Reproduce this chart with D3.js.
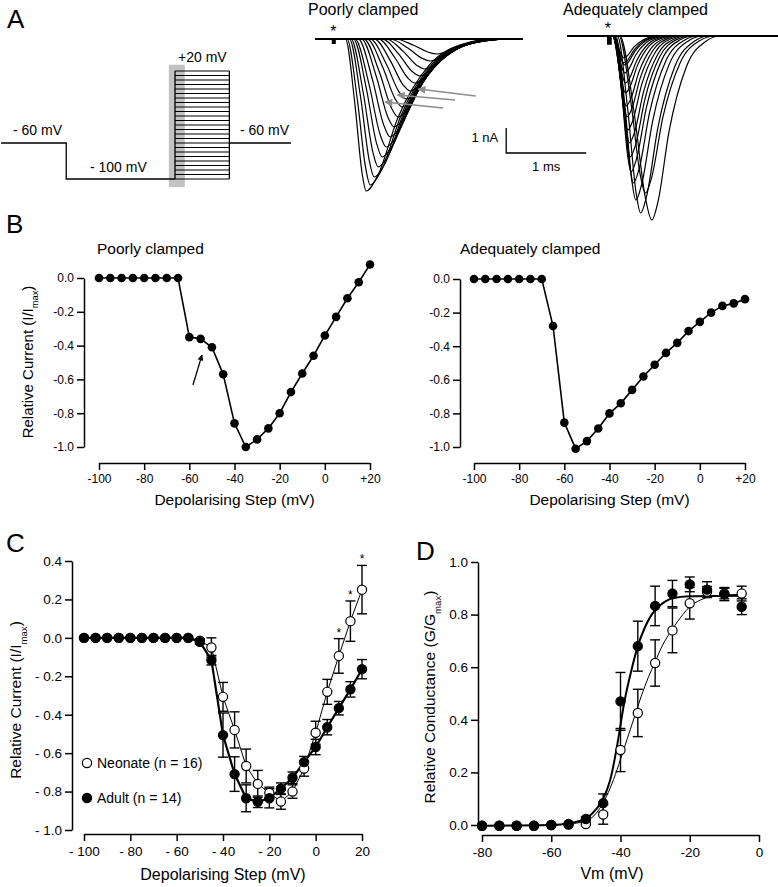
<!DOCTYPE html>
<html>
<head>
<meta charset="utf-8">
<script src="https://cdn.jsdelivr.net/npm/d3@7"></script>
<style>
  body { margin: 0; background: #fff; }
  svg { font-family: "Liberation Sans", Arial, sans-serif; }
</style>
</head>
<body>
<svg id="fig" width="778" height="887"></svg>
<script>
// ---------- DATA ----------
// panel A: voltage protocol (ms / mV)
const protoTimes = [0, 18, 48, 63, 80]
const holdV = -60
const prepulseV = -100
const stepV = [-100,-95,-90,-85,-80,-75,-70,-65,-60,-55,-50,-45,-40,-35,-30,-25,-20,-15,-10,-5,0,5,10,15,20]
const shadeT = [46.3, 50.7]

// panel A: current traces [onset ms, peak ms, peak nA, end ms]
const poorTraces = [
  [0.38, 0.64, -6.08, 2.22], [0.40, 0.69, -5.84, 2.24], [0.43, 0.74, -5.52, 2.26],
  [0.45, 0.79, -5.12, 2.28], [0.48, 0.84, -4.72, 2.30], [0.50, 0.89, -4.32, 2.32],
  [0.54, 0.94, -3.92, 2.33], [0.58, 0.99, -3.52, 2.35], [0.61, 1.04, -3.12, 2.36],
  [0.65, 1.09, -2.72, 2.38], [0.69, 1.14, -2.40, 2.40], [0.74, 1.19, -2.08, 2.42],
  [0.79, 1.25, -1.76, 2.44], [0.84, 1.31, -1.48, 2.45], [0.89, 1.37, -1.20, 2.46],
  [0.94, 1.44, -0.88, 2.48], [1.00, 1.52, -0.60, 2.50]
]
const goodTraces = [
  [0.65, 0.98, -6.28, 1.85], [0.66, 1.06, -7.36, 1.92], [0.63, 0.92, -7.08, 1.78],
  [0.61, 0.86, -6.56, 1.70], [0.60, 0.83, -5.88, 1.64], [0.59, 0.80, -5.44, 1.58],
  [0.59, 0.79, -4.84, 1.53], [0.58, 0.78, -4.28, 1.49], [0.58, 0.76, -3.76, 1.45],
  [0.58, 0.75, -3.24, 1.41], [0.57, 0.74, -2.80, 1.37], [0.57, 0.73, -2.28, 1.33],
  [0.57, 0.73, -1.88, 1.30], [0.57, 0.72, -1.48, 1.27], [0.57, 0.72, -1.16, 1.24],
  [0.57, 0.71, -1.08, 1.22], [0.57, 0.71, -0.88, 1.20]
]
// gray arrows on poorly clamped traces [[t0,i0],[t1,i1]]
const poorArrows = [
  [[2.01, -2.28], [1.29, -2.00]],
  [[1.75, -2.44], [1.03, -2.24]],
  [[1.60, -2.76], [0.875, -2.52]]
]

// panel B: I/Imax vs step
const poorI = [0,0,0,0,0,0,0,0,-0.35,-0.36,-0.41,-0.57,-0.86,-1.0,-0.955,-0.89,-0.80,-0.675,-0.565,-0.46,-0.34,-0.23,-0.12,-0.025,0.08]
const goodI = [0,0,0,0,0,0,0,-0.28,-0.855,-1.01,-0.965,-0.89,-0.80,-0.74,-0.66,-0.58,-0.51,-0.44,-0.38,-0.31,-0.255,-0.20,-0.16,-0.145,-0.12]
const poorArrow = [[-58.4, -0.633], [-54.4, -0.456]]

// panel C: mean +/- sem
const adultI = [0,0,0,0,0,0,0,0,0,0,-0.02,-0.116,-0.506,-0.709,-0.835,-0.853,-0.835,-0.785,-0.728,-0.647,-0.568,-0.465,-0.366,-0.268,-0.163]
const adultSem = [0,0,0,0,0,0,0,0,0,0,0.012,0.025,0.115,0.09,0.07,0.03,0.05,0.03,0.03,0.03,0.04,0.04,0.035,0.04,0.05]
const neoI = [0,0,0,0,0,0,0,0,0,0,-0.015,-0.05,-0.307,-0.479,-0.667,-0.76,-0.807,-0.852,-0.80,-0.68,-0.494,-0.281,-0.094,0.087,0.251]
const neoSem = [0,0,0,0,0,0,0,0,0,0,0.01,0.05,0.075,0.094,0.088,0.07,0.03,0.04,0.035,0.04,0.06,0.065,0.09,0.105,0.126]
const sigSteps = [10, 15, 20]

// panel D: G/Gmax
const dV = [-80,-75,-70,-65,-60,-55,-50,-45,-40,-35,-30,-25,-20,-15,-10,-5]
const adultG = [-0.003,-0.003,-0.003,-0.003,0.0,0.004,0.023,0.083,0.47,0.68,0.833,0.88,0.915,0.895,0.878,0.83]
const adultGSem = [0,0,0,0,0,0,0.008,0.035,0.11,0.095,0.075,0.05,0.028,0.03,0.025,0.03]
const neoG = [-0.003,-0.003,-0.003,-0.003,0.0,0.002,0.004,0.04,0.285,0.426,0.616,0.74,0.843,0.887,0.88,0.88]
const neoGSem = [0,0,0,0,0,0,0.005,0.037,0.082,0.09,0.088,0.085,0.06,0.02,0.02,0.028]
// fitted Boltzmann curves
const adultFitV = [-80,-60,-55,-50,-47,-45,-43,-41,-40,-39,-37,-35,-33,-31,-29,-27,-25,-20,-5]
const adultFitG = [-0.003,0.0,0.006,0.025,0.06,0.1,0.17,0.3,0.38,0.46,0.58,0.68,0.75,0.8,0.83,0.85,0.862,0.87,0.872]
const neoFitV = [-80,-60,-55,-50,-47,-45,-43,-41,-40,-38,-36,-34,-32,-30,-28,-25,-22,-20,-17,-14,-10,-5]
const neoFitG = [-0.003,0.0,0.004,0.015,0.045,0.085,0.14,0.21,0.25,0.33,0.41,0.49,0.56,0.62,0.68,0.745,0.8,0.83,0.855,0.868,0.874,0.877]

// ---------- DRAW ----------
const svg = d3.select('#fig')
const black = '#000'

function panelLetter(txt, x, y) {
  svg.append('text').text(txt).attr('x', x).attr('y', y)
    .style('font-size', '26px')
}

function styleAxis(g, fs) {
  g.attr('font-family', null).attr('font-size', null)
  g.selectAll('path, line').attr('stroke', black).attr('stroke-width', 1.5)
  g.selectAll('text').attr('fill', black).style('font-size', fs + 'px')
}

// ===== PANEL A =====
panelLetter('A', 7, 28)

const protoX = d3.scaleLinear().domain([0, 80]).range([1, 291])
const protoY = d3.scaleLinear().domain([-100, 20]).range([179, 71])

svg.append('rect')
  .attr('x', protoX(shadeT[0])).attr('y', protoY(27))
  .attr('width', protoX(shadeT[1]) - protoX(shadeT[0]))
  .attr('height', protoY(-109) - protoY(27))
  .attr('fill', '#c2c2c2')

const protoLine = d3.line().x(d => protoX(d[0])).y(d => protoY(d[1]))
svg.append('path')
  .attr('d', protoLine([[protoTimes[0], holdV], [protoTimes[1], holdV], [protoTimes[1], prepulseV], [protoTimes[2], prepulseV]]))
  .attr('fill', 'none').attr('stroke', black).attr('stroke-width', 1.3)
svg.append('path')
  .attr('d', protoLine([[protoTimes[3], holdV], [protoTimes[4], holdV]]))
  .attr('fill', 'none').attr('stroke', black).attr('stroke-width', 1.3)
svg.append('g').selectAll('line')
  .data(stepV)
  .enter()
  .append('line')
  .attr('x1', protoX(protoTimes[2])).attr('x2', protoX(protoTimes[3]))
  .attr('y1', d => protoY(d)).attr('y2', d => protoY(d))
  .attr('stroke', black).attr('stroke-width', 1.1)
;[protoTimes[2], protoTimes[3]].forEach(t => {
  svg.append('line')
    .attr('x1', protoX(t)).attr('x2', protoX(t))
    .attr('y1', protoY(d3.min(stepV))).attr('y2', protoY(d3.max(stepV)))
    .attr('stroke', black).attr('stroke-width', 1.3)
})

const protoLabels = [
  ['- 60 mV', 13, 135], ['- 100 mV', 90, 172], ['+20 mV', 178, 62], ['- 60 mV', 240, 135]
]
protoLabels.forEach(l => {
  svg.append('text').text(l[0]).attr('x', l[1]).attr('y', l[2]).style('font-size', '14px')
})

// traces
const poorX = d3.scaleLinear().domain([0, 2.6]).range([315, 523])
const poorY = d3.scaleLinear().domain([0, -6.5]).range([39, 201.5])
const goodX = d3.scaleLinear().domain([0, 2.65]).range([567, 779])
const goodY = d3.scaleLinear().domain([0, -7.5]).range([36, 223.5])

function tracePoints(tr, tEnd) {
  const [on, pk, amp, end] = tr
  const rise = pk - on, fall = end - pk
  return [[0, 0], [on, 0], [on + 0.45 * rise, 0.42 * amp], [on + 0.8 * rise, 0.88 * amp], [pk, amp],
    [pk + 0.09 * fall, 0.9 * amp], [pk + 0.25 * fall, 0.52 * amp], [pk + 0.5 * fall, 0.17 * amp],
    [pk + 0.78 * fall, 0.03 * amp], [end, 0], [tEnd, 0]]
}

function drawTraces(traces, xs, ys) {
  const line = d3.line().curve(d3.curveMonotoneX).x(d => xs(d[0])).y(d => ys(d[1]))
  const tEnd = xs.domain()[1]
  svg.append('g').selectAll('path')
    .data(traces)
    .enter()
    .append('path')
    .attr('d', d => line(tracePoints(d, tEnd)))
    .attr('fill', 'none').attr('stroke', black).attr('stroke-width', 1.2)
  svg.append('line')
    .attr('x1', xs(0)).attr('x2', xs(tEnd))
    .attr('y1', ys(0)).attr('y2', ys(0))
    .attr('stroke', black).attr('stroke-width', 2.2)
}
drawTraces(poorTraces, poorX, poorY)
drawTraces(goodTraces, goodX, goodY)

// stimulus artefacts + asterisks
svg.append('rect').attr('x', poorX(0.21)).attr('y', poorY(0)).attr('width', poorX(0.26) - poorX(0.21))
  .attr('height', poorY(-0.2) - poorY(0)).attr('fill', black)
svg.append('rect').attr('x', goodX(0.5)).attr('y', goodY(0)).attr('width', goodX(0.56) - goodX(0.5))
  .attr('height', goodY(-0.35) - goodY(0)).attr('fill', black)
svg.append('text').text('*').attr('x', poorX(0.23)).attr('y', 37).attr('text-anchor', 'middle').style('font-size', '16px')
svg.append('text').text('*').attr('x', goodX(0.51)).attr('y', 34).attr('text-anchor', 'middle').style('font-size', '16px')

// gray arrows
svg.append('defs').append('marker')
  .attr('id', 'grayhead').attr('viewBox', '0 0 10 10').attr('refX', 9).attr('refY', 5)
  .attr('markerWidth', 11).attr('markerHeight', 8).attr('markerUnits', 'userSpaceOnUse').attr('orient', 'auto')
  .append('path').attr('d', 'M0,0 L10,5 L0,10 z').attr('fill', '#8c8c8c')
poorArrows.forEach(a => {
  svg.append('line')
    .attr('x1', poorX(a[0][0])).attr('y1', poorY(a[0][1]))
    .attr('x2', poorX(a[1][0])).attr('y2', poorY(a[1][1]))
    .attr('stroke', '#8c8c8c').attr('stroke-width', 1.6)
    .attr('marker-end', 'url(#grayhead)')
})

// scale bars (1 nA, 1 ms)
const barT = 2.39, barI = -4.56
svg.append('path')
  .attr('d', `M${poorX(barT)},${poorY(barI + 1)} L${poorX(barT)},${poorY(barI)} L${poorX(barT + 1)},${poorY(barI)}`)
  .attr('fill', 'none').attr('stroke', black).attr('stroke-width', 1.3)
svg.append('text').text('1 nA').attr('x', poorX(barT) - 8).attr('y', poorY(barI + 0.45))
  .attr('text-anchor', 'end').style('font-size', '13px')
svg.append('text').text('1 ms').attr('x', poorX(barT + 0.5)).attr('y', poorY(barI) + 18)
  .attr('text-anchor', 'middle').style('font-size', '13px')

svg.append('text').text('Poorly clamped').attr('x', 308).attr('y', 15).style('font-size', '16px')
svg.append('text').text('Adequately clamped').attr('x', 563).attr('y', 15).style('font-size', '16px')

// ===== PANEL B =====
panelLetter('B', 6, 233)

svg.append('defs').append('marker')
  .attr('id', 'blackhead').attr('viewBox', '0 0 10 10').attr('refX', 9).attr('refY', 5)
  .attr('markerWidth', 8).attr('markerHeight', 6).attr('markerUnits', 'userSpaceOnUse').attr('orient', 'auto')
  .append('path').attr('d', 'M0,0 L10,5 L0,10 z').attr('fill', black)

function drawIV(values, xr, yr, yAxisX, title, titleX) {
  const x = d3.scaleLinear().domain([-100, 20]).range(xr)
  const y = d3.scaleLinear().domain([0, -1]).range(yr)
  const pts = stepV.map((v, i) => [v, values[i]])

  svg.append('g')
    .attr('transform', `translate(${yAxisX},0)`)
    .call(d3.axisLeft(y).tickValues([0, -0.2, -0.4, -0.6, -0.8, -1]).tickFormat(d => d.toFixed(1)).tickSize(7).tickSizeOuter(0).tickPadding(3))
    .call(g => styleAxis(g, 12))
  svg.append('g')
    .attr('transform', 'translate(0,463)')
    .call(d3.axisBottom(x).tickValues([-100, -80, -60, -40, -20, 0, 20]).tickFormat(d => d > 0 ? '+' + d : String(d)).tickSize(7).tickSizeOuter(0).tickPadding(4))
    .call(g => styleAxis(g, 12))

  svg.append('path')
    .attr('d', d3.line().x(d => x(d[0])).y(d => y(d[1]))(pts))
    .attr('fill', 'none').attr('stroke', black).attr('stroke-width', 1.6)
  svg.append('g').selectAll('circle')
    .data(pts)
    .enter()
    .append('circle')
    .attr('cx', d => x(d[0])).attr('cy', d => y(d[1]))
    .attr('r', 4.3).attr('fill', black)

  svg.append('text').text(title).attr('x', titleX).attr('y', 254).style('font-size', '15.5px')
  svg.append('text').text('Depolarising Step (mV)')
    .attr('x', (xr[0] + xr[1]) / 2).attr('y', 505).attr('text-anchor', 'middle').style('font-size', '15.5px')
  return { x, y }
}

const bl = drawIV(poorI, [99, 370], [278, 447], 84, 'Poorly clamped', 97)
drawIV(goodI, [474, 745], [279, 447], 460, 'Adequately clamped', 460)

svg.append('line')
  .attr('x1', bl.x(poorArrow[0][0])).attr('y1', bl.y(poorArrow[0][1]))
  .attr('x2', bl.x(poorArrow[1][0])).attr('y2', bl.y(poorArrow[1][1]))
  .attr('stroke', black).attr('stroke-width', 1.3)
  .attr('marker-end', 'url(#blackhead)')

function yTitle(x, y, main, sub, fs) {
  const t = svg.append('text')
    .attr('transform', `translate(${x},${y}) rotate(-90)`)
    .attr('text-anchor', 'middle').style('font-size', fs + 'px')
  t.append('tspan').text(main)
  t.append('tspan').text(sub).attr('baseline-shift', 'sub').style('font-size', (fs * 0.62) + 'px')
  t.append('tspan').text(')')
}
yTitle(33, 362, 'Relative Current (I/I', 'max', 15)

// ===== PANEL C =====
panelLetter('C', 6, 552)

const cx = d3.scaleLinear().domain([-100, 20]).range([84, 362])
const cy = d3.scaleLinear().domain([0.4, -1]).range([561, 830])
const fmtDash = d => d < 0 ? '- ' + Math.abs(d) : String(d)

svg.append('g')
  .attr('transform', 'translate(72,0)')
  .call(d3.axisLeft(cy).tickValues([0.4, 0.2, 0, -0.2, -0.4, -0.6, -0.8, -1]).tickFormat(d => d < 0 ? '- ' + Math.abs(d).toFixed(1) : d.toFixed(1)).tickSize(7).tickSizeOuter(0).tickPadding(3))
  .call(g => styleAxis(g, 13.5))
svg.append('g')
  .attr('transform', 'translate(0,834)')
  .call(d3.axisBottom(cx).tickValues([-100, -80, -60, -40, -20, 0, 20]).tickFormat(fmtDash).tickSize(7).tickSizeOuter(0).tickPadding(5))
  .call(g => styleAxis(g, 13.5))

function errorBars(xs, ys, xv, mv, sv, cap) {
  const g = svg.append('g').attr('stroke', black).attr('stroke-width', 1.4)
  xv.forEach((v, i) => {
    if (!sv[i]) return
    const x = xs(v), y1 = ys(mv[i] - sv[i]), y2 = ys(mv[i] + sv[i])
    g.append('line').attr('x1', x).attr('x2', x).attr('y1', y1).attr('y2', y2)
    g.append('line').attr('x1', x - cap).attr('x2', x + cap).attr('y1', y1).attr('y2', y1)
    g.append('line').attr('x1', x - cap).attr('x2', x + cap).attr('y1', y2).attr('y2', y2)
  })
}
function markers(xs, ys, xv, mv, filled, r) {
  svg.append('g').selectAll('circle')
    .data(xv.map((v, i) => [v, mv[i]]))
    .enter()
    .append('circle')
    .attr('cx', d => xs(d[0])).attr('cy', d => ys(d[1]))
    .attr('r', r)
    .attr('fill', filled ? black : '#fff')
    .attr('stroke', black).attr('stroke-width', 1.2)
}

errorBars(cx, cy, stepV, neoI, neoSem, 5)
errorBars(cx, cy, stepV, adultI, adultSem, 5)
const cLine = d3.line().x(d => cx(d[0])).y(d => cy(d[1]))
svg.append('path').attr('d', cLine(stepV.map((v, i) => [v, adultI[i]])))
  .attr('fill', 'none').attr('stroke', black).attr('stroke-width', 2.2)
svg.append('path').attr('d', cLine(stepV.map((v, i) => [v, neoI[i]])))
  .attr('fill', 'none').attr('stroke', black).attr('stroke-width', 1)
markers(cx, cy, stepV, neoI, false, 4.6)
markers(cx, cy, stepV, adultI, true, 4.6)

sigSteps.forEach(v => {
  const i = stepV.indexOf(v)
  svg.append('text').text('*')
    .attr('x', cx(v)).attr('y', cy(neoI[i] + neoSem[i]) - 2)
    .attr('text-anchor', 'middle').style('font-size', '12px')
})

// legend
const cLegend = [['Neonate (n = 16)', false, 763], ['Adult (n = 14)', true, 798]]
cLegend.forEach(l => {
  svg.append('circle').attr('cx', 87).attr('cy', l[2]).attr('r', 4.6)
    .attr('fill', l[1] ? black : '#fff').attr('stroke', black).attr('stroke-width', 1.2)
  svg.append('text').text(l[0]).attr('x', 97).attr('y', l[2] + 5).style('font-size', '14px')
})

yTitle(21, 700, 'Relative Current (I/I', 'max', 15.5)
svg.append('text').text('Depolarising Step (mV)')
  .attr('x', 223).attr('y', 880).attr('text-anchor', 'middle').style('font-size', '16px')

// ===== PANEL D =====
panelLetter('D', 416, 560)

const dx = d3.scaleLinear().domain([-80, 0]).range([482, 759])
const dy = d3.scaleLinear().domain([0, 1]).range([825, 562])

svg.append('g')
  .attr('transform', 'translate(478,0)')
  .call(d3.axisLeft(dy).tickValues([0, 0.2, 0.4, 0.6, 0.8, 1]).tickFormat(d => d.toFixed(1)).tickSize(7).tickSizeOuter(0).tickPadding(3))
  .call(g => styleAxis(g, 13.5))
svg.append('g')
  .attr('transform', 'translate(0,835)')
  .call(d3.axisBottom(dx).tickValues([-80, -60, -40, -20, 0]).tickFormat(d => String(d)).tickSize(7).tickSizeOuter(0).tickPadding(5))
  .call(g => styleAxis(g, 13.5))

const fitLine = d3.line().curve(d3.curveMonotoneX).x(d => dx(d[0])).y(d => dy(d[1]))
svg.append('path').attr('d', fitLine(neoFitV.map((v, i) => [v, neoFitG[i]])))
  .attr('fill', 'none').attr('stroke', black).attr('stroke-width', 1)
svg.append('path').attr('d', fitLine(adultFitV.map((v, i) => [v, adultFitG[i]])))
  .attr('fill', 'none').attr('stroke', black).attr('stroke-width', 2)

errorBars(dx, dy, dV, neoG, neoGSem, 5)
errorBars(dx, dy, dV, adultG, adultGSem, 5)
markers(dx, dy, dV, neoG, false, 4.6)
markers(dx, dy, dV, adultG, true, 4.6)

yTitle(435, 697, 'Relative Conductance (G/G', 'max', 15.5)
svg.append('text').text('Vm (mV)')
  .attr('x', 612).attr('y', 879).attr('text-anchor', 'middle').style('font-size', '16px')
</script>
</body>
</html>
